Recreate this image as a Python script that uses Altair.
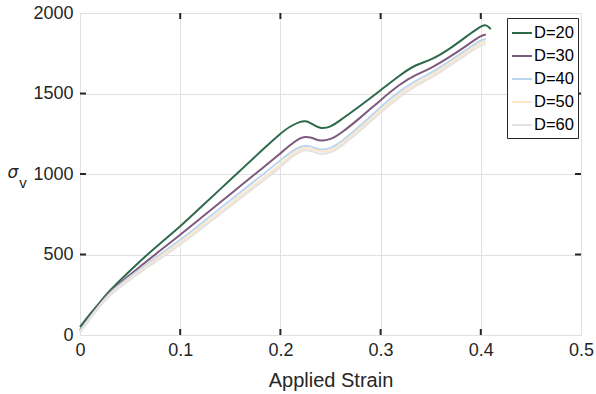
import altair as alt
import pandas as pd

strain = [0, 0.01, 0.02, 0.03, 0.04, 0.06, 0.08, 0.10, 0.12, 0.14, 0.16, 0.18, 0.20, 0.21,
          0.22, 0.225, 0.23, 0.235, 0.24, 0.25, 0.26, 0.28, 0.30, 0.32, 0.335, 0.35, 0.37,
          0.39, 0.40, 0.405, 0.41]
d20 = [50, 130, 205, 278, 340, 460, 570, 673, 790, 906, 1022, 1138, 1252, 1298, 1326, 1330,
       1318, 1298, 1282, 1290, 1335, 1425, 1520, 1618, 1680, 1705, 1780, 1875, 1918, 1930, 1900]
d30 = [30, 115, 195, 270, 325, 425, 525, 622, 723, 824, 925, 1026, 1128, 1182, 1225, 1232,
       1228, 1216, 1205, 1213, 1250, 1350, 1460, 1562, 1617, 1655, 1730, 1815, 1860, 1866, None]
d40 = [25, 110, 190, 262, 315, 410, 500, 590, 688, 787, 886, 985, 1084, 1136, 1171, 1178,
       1173, 1160, 1148, 1158, 1195, 1300, 1418, 1520, 1580, 1625, 1705, 1790, 1832, 1838, None]
d50 = [20, 105, 185, 255, 306, 400, 487, 573, 670, 767, 864, 961, 1057, 1116, 1155, 1163,
       1158, 1147, 1136, 1143, 1180, 1285, 1397, 1500, 1562, 1607, 1690, 1775, 1817, 1822, None]
d60 = [15, 100, 180, 248, 298, 390, 475, 558, 655, 752, 848, 945, 1041, 1101, 1141, 1149,
       1144, 1133, 1122, 1129, 1166, 1270, 1382, 1485, 1548, 1593, 1676, 1760, 1802, 1807, None]

series_names = ["D=20", "D=30", "D=40", "D=50", "D=60"]
series_vals = [d20, d30, d40, d50, d60]
colors = ["#2D6A4C", "#7D597D", "#BDD6F0", "#FCE6C6", "#E3E3E3"]

x_ticks = [0, 0.1, 0.2, 0.3, 0.4, 0.5]
y_ticks = [0, 500, 1000, 1500, 2000]

rows = []
for name, vals in zip(series_names, series_vals):
    for i, (s, v) in enumerate(zip(strain, vals)):
        if v is not None:
            rows.append({"strain": s, "sigma": v, "D": name, "order": i})
df = pd.DataFrame(rows)

W, H = 501, 322
TXT = "#262626"
FONT = "Liberation Sans"

xscale = alt.Scale(domain=[0, 0.5], nice=False, zero=False)
yscale = alt.Scale(domain=[0, 2000], nice=False)

lines = alt.Chart(df).mark_line(strokeWidth=2, interpolate="basis").encode(
    x=alt.X("strain:Q", scale=xscale,
            axis=alt.Axis(values=x_ticks, format="~g", title="Applied Strain",
                          ticks=False, domain=False, grid=True, labelPadding=6,
                          labelFlush=False, titlePadding=11, labelFontSize=18,
                          titleFontSize=20, titleFontWeight="normal", labelColor=TXT,
                          titleColor=TXT, gridColor="#E0E0E0", labelFont=FONT,
                          titleFont=FONT)),
    y=alt.Y("sigma:Q", scale=yscale,
            axis=alt.Axis(values=y_ticks, format="d", title=None, ticks=False,
                          domain=False, grid=True, labelFlush=False, labelPadding=7,
                          labelFontSize=18, labelColor=TXT, gridColor="#E0E0E0",
                          labelFont=FONT)),
    color=alt.Color("D:N", scale=alt.Scale(domain=series_names, range=colors),
                    legend=alt.Legend(title=None, orient="none", legendX=427, legendY=5,
                                      symbolType="stroke", symbolSize=400,
                                      symbolStrokeWidth=2, labelFontSize=16.5,
                                      labelFont=FONT, labelColor="#000000",
                                      labelOffset=1, rowPadding=3, padding=4,
                                      strokeColor=TXT, fillColor="white")),
    order="order:Q",
)

xt = pd.DataFrame({"v": x_ticks[1:-1]})
yt = pd.DataFrame({"v": y_ticks[1:-1]})

xtick_b = alt.Chart(xt).mark_rule(color=TXT, strokeWidth=2).encode(
    x=alt.X("v:Q", scale=xscale), y=alt.value(H), y2=alt.value(H - 6))
xtick_t = alt.Chart(xt).mark_rule(color=TXT, strokeWidth=2).encode(
    x=alt.X("v:Q", scale=xscale), y=alt.value(0), y2=alt.value(6))
ytick_l = alt.Chart(yt).mark_rule(color=TXT, strokeWidth=2).encode(
    y=alt.Y("v:Q", scale=yscale), x=alt.value(0), x2=alt.value(6))
ytick_r = alt.Chart(yt).mark_rule(color=TXT, strokeWidth=2).encode(
    y=alt.Y("v:Q", scale=yscale), x=alt.value(W), x2=alt.value(W - 6))

sig = alt.Chart(pd.DataFrame({"t": ["σ"]})).mark_text(
    fontSize=17, fontStyle="italic", font="DejaVu Sans", color=TXT, align="center",
    baseline="middle").encode(x=alt.value(-67), y=alt.value(160), text="t:N")
sub = alt.Chart(pd.DataFrame({"t": ["v"]})).mark_text(
    fontSize=15, font=FONT, color=TXT, align="center",
    baseline="middle").encode(x=alt.value(-57), y=alt.value(170), text="t:N")

chart = alt.layer(lines, xtick_b, xtick_t, ytick_l, ytick_r, sig, sub).properties(
    width=W, height=H,
    autosize=alt.AutoSizeParams(type="none"),
    padding={"left": 80, "top": 13, "right": 15, "bottom": 59},
).configure_view(stroke=TXT, strokeWidth=2).configure(background="white")

chart.save("out.html", embed_options={"renderer": "svg", "actions": False})
